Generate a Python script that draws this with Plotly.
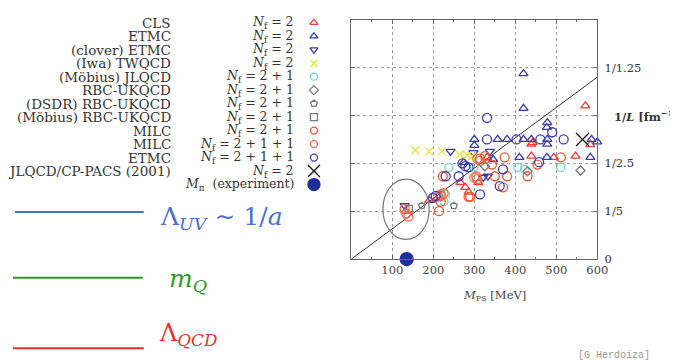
import plotly.graph_objects as go

# ---------------- data ----------------
cls_m = [571, 439, 583, 331, 439, 494, 547, 310, 266, 278, 286, 190, 132, 442]
cls_l = [0.64, 0.48, 0.478, 0.425, 0.43, 0.425, 0.43, 0.32, 0.32, 0.30, 0.28, 0.245, 0.20, 0.487]

etmc2_m = [420, 420, 478, 300, 300, 357, 380, 420, 439, 478, 478, 586, 600, 410, 346, 477, 583, 274, 477]
etmc2_l = [0.775, 0.63, 0.57, 0.50, 0.475, 0.50, 0.50, 0.50, 0.50, 0.50, 0.48, 0.50, 0.49, 0.425, 0.416, 0.425, 0.425, 0.404, 0.55]

clover_m = [242, 298, 338, 322, 333, 130]
clover_l = [0.45, 0.445, 0.45, 0.342, 0.346, 0.223]

twqcd_m = [156, 190, 221, 264, 283, 295]
twqcd_l = [0.455, 0.45, 0.45, 0.437, 0.433, 0.43]

jlqcd_m = [238, 230, 226, 406, 422, 511, 300]
jlqcd_l = [0.383, 0.27, 0.24, 0.383, 0.375, 0.383, 0.385]

rbc_m = [559, 430, 326]
rbc_l = [0.37, 0.367, 0.388]

dsdr_m = [172, 250]
dsdr_l = [0.223, 0.223]

mrbc_m = [140]
mrbc_l = [0.21]

milc_m = [343, 380, 454, 511, 223, 350, 370, 286, 218, 218, 214, 314, 326, 374, 430, 290]
milc_l = [0.395, 0.346, 0.395, 0.425, 0.346, 0.346, 0.30, 0.26, 0.264, 0.24, 0.20, 0.42, 0.43, 0.425, 0.346, 0.26]

milc4_m = [134, 139, 130, 218, 225, 212, 307, 305, 300, 314, 307]
milc4_l = [0.19, 0.177, 0.21, 0.27, 0.275, 0.262, 0.334, 0.345, 0.34, 0.41, 0.42]

etmc4_m = [331, 490, 331, 403, 461, 518, 458, 370, 271, 286, 230, 262, 314, 199, 206, 362, 278]
etmc4_l = [0.59, 0.53, 0.50, 0.50, 0.50, 0.50, 0.405, 0.375, 0.40, 0.383, 0.346, 0.346, 0.27, 0.256, 0.264, 0.305, 0.388]

cppacs_m = [564]
cppacs_l = [0.50]

exp_m = [135]
exp_l = [0.0]

x_ticks = [100, 200, 300, 400, 500, 600]
y_ticks = [0, 0.2, 0.4, 0.6, 0.8]
y_ticktext = ["0", "1/5", "1/2.5", "", "1/1.25"]

HBARC = 197.327
ML = 4.0
line_m = [0, 600]

RED = "#ee3d3d"
BLUE = "#3b3bb0"
YEL = "#e4e43c"
CYAN = "#72d6c6"
GRAY = "#7a7a7a"
ORANGE = "#f2552c"
ORANGE2 = "#f2684a"

series = [
    ("CLS", "<i>N</i><sub>f</sub> = 2", cls_m, cls_l, "triangle-up-open", RED, 8),
    ("ETMC", "<i>N</i><sub>f</sub> = 2", etmc2_m, etmc2_l, "triangle-up-open", BLUE, 8),
    ("(clover) ETMC", "<i>N</i><sub>f</sub> = 2", clover_m, clover_l, "triangle-down-open", BLUE, 8),
    ("(Iwa) TWQCD", "<i>N</i><sub>f</sub> = 2", twqcd_m, twqcd_l, "x-thin-open", YEL, 8),
    ("(Möbius) JLQCD", "<i>N</i><sub>f</sub> = 2 + 1", jlqcd_m, jlqcd_l, "circle-open", CYAN, 8),
    ("RBC-UKQCD", "<i>N</i><sub>f</sub> = 2 + 1", rbc_m, rbc_l, "diamond-open", GRAY, 7),
    ("(DSDR) RBC-UKQCD", "<i>N</i><sub>f</sub> = 2 + 1", dsdr_m, dsdr_l, "pentagon-open", GRAY, 7),
    ("(Möbius) RBC-UKQCD", "<i>N</i><sub>f</sub> = 2 + 1", mrbc_m, mrbc_l, "square-open", GRAY, 7),
    ("MILC", "<i>N</i><sub>f</sub> = 2 + 1", milc_m, milc_l, "circle-open", ORANGE, 9),
    ("MILC", "<i>N</i><sub>f</sub> = 2 + 1 + 1", milc4_m, milc4_l, "circle-open", ORANGE2, 9),
    ("ETMC", "<i>N</i><sub>f</sub> = 2 + 1 + 1", etmc4_m, etmc4_l, "circle-open", BLUE, 9),
    ("JLQCD/CP-PACS (2001)", "<i>N</i><sub>f</sub> = 2", cppacs_m, cppacs_l, "x-thin-open", "#111111", 13),
    ("", "<i>M</i><sub>π</sub>  (experiment)", exp_m, exp_l, "circle", "#1f2f9a", 13),
]

fig = go.Figure()

# diagonal M_PS L = 4 line
fig.add_trace(go.Scatter(x=line_m, y=[m / (ML * HBARC) for m in line_m], mode="lines",
                         line=dict(color="#333333", width=1), showlegend=False, hoverinfo="skip"))

for name, nf, xs, ys, sym, col, sz in series:
    fig.add_trace(go.Scatter(x=xs, y=ys, mode="markers", showlegend=False,
                             marker=dict(symbol=sym, color=col, size=sz,
                                         line=dict(color=col, width=1.3)),
                             cliponaxis=False))

# legend swatches on a separate full-page pixel axis
row_y = [15 + 13.75 * i for i in range(len(series))]
for (name, nf, xs, ys, sym, col, sz), ry in zip(series, row_y):
    fig.add_trace(go.Scatter(x=[311], y=[ry], mode="markers", showlegend=False,
                             xaxis="x2", yaxis="y2", hoverinfo="skip",
                             marker=dict(symbol=sym, color=col, size=7 if sz < 13 else 12,
                                         line=dict(color=col, width=1.3))))

annotations = []
NAME_FONT = dict(family="DejaVu Serif", size=13.5, color="#333333")
NF_FONT = dict(family="DejaVu Serif", size=12.5, color="#333333")
for (name, nf, *_), ry in zip(series, row_y):
    yp = 1 - ry / 363
    if name:
        annotations.append(dict(x=168 / 678, y=yp, xref="paper", yref="paper", text=name,
                                showarrow=False, xanchor="right", yanchor="middle", font=NAME_FONT))
    annotations.append(dict(x=293 / 678, y=yp, xref="paper", yref="paper", text=nf,
                            showarrow=False, xanchor="right", yanchor="middle", font=NF_FONT))

annotations += [
    dict(x=614 / 678, y=1 - 110 / 363, xref="paper", yref="paper",
         text="<b>1/<i>L</i> [fm<sup>−1</sup>]</b>", showarrow=False, xanchor="left", yanchor="middle",
         font=dict(family="DejaVu Serif", size=11.5, color="#333333")),
    dict(x=495 / 678, y=1 - 293 / 363, xref="paper", yref="paper",
         text="<i>M</i><sub>PS</sub> [MeV]", showarrow=False, xanchor="center", yanchor="middle",
         font=dict(family="DejaVu Serif", size=11.5, color="#444444")),
    dict(x=152 / 678, y=1 - 214 / 363, xref="paper", yref="paper",
         text="Λ<sub><i>UV</i></sub> ∼ 1/<i>a</i>", showarrow=False, xanchor="left", yanchor="middle",
         font=dict(family="DejaVu Serif", size=25, color="#4a6fd0")),
    dict(x=162 / 678, y=1 - 277 / 363, xref="paper", yref="paper",
         text="<i>m</i><sub><i>Q</i></sub>", showarrow=False, xanchor="left", yanchor="middle",
         font=dict(family="DejaVu Serif", size=25, color="#2a9a2a")),
    dict(x=151 / 678, y=1 - 333 / 363, xref="paper", yref="paper",
         text="Λ<sub><i>QCD</i></sub>", showarrow=False, xanchor="left", yanchor="middle",
         font=dict(family="DejaVu Serif", size=24, color="#e83030")),
    dict(x=655 / 678, y=1 - 354 / 363, xref="paper", yref="paper",
         text="[G Herdoíza]", showarrow=False, xanchor="right", yanchor="middle",
         font=dict(family="Liberation Mono", size=10, color="#999999")),
]

shapes = [
    dict(type="circle", xref="x", yref="y", x0=77, x1=190, y0=0.082, y1=0.334,
         line=dict(color="#777777", width=1.2)),
    dict(type="line", xref="paper", yref="paper", x0=7 / 678, x1=138 / 678,
         y0=1 - 208 / 363, y1=1 - 208 / 363, line=dict(color="#4a6fd0", width=2)),
    dict(type="line", xref="paper", yref="paper", x0=5 / 678, x1=137 / 678,
         y0=1 - 275 / 363, y1=1 - 275 / 363, line=dict(color="#2a9a2a", width=2)),
    dict(type="line", xref="paper", yref="paper", x0=5 / 678, x1=138 / 678,
         y0=1 - 347 / 363, y1=1 - 347 / 363, line=dict(color="#e83030", width=2)),
]

axis_font = dict(family="DejaVu Serif", size=11.5, color="#444444")
fig.update_layout(
    width=678, height=363, margin=dict(l=0, r=0, t=0, b=0),
    paper_bgcolor="white", plot_bgcolor="rgba(0,0,0,0)",
    xaxis=dict(domain=[349 / 678, 599 / 678], range=[0, 600], tickvals=x_ticks,
               showgrid=True, gridcolor="#9a9a9a", griddash="dot", gridwidth=1,
               showline=True, linecolor="#666666", linewidth=1, mirror="allticks",
               ticks="inside", ticklen=4, tickcolor="#666666", tickfont=axis_font,
               minor=dict(dtick=50, ticks="inside", ticklen=2, tickcolor="#666666", showgrid=False),
               zeroline=False, anchor="y"),
    yaxis=dict(domain=[1 - 256 / 363, 1 - 12 / 363], range=[0, 1.0], side="right",
               tickvals=y_ticks, ticktext=y_ticktext,
               showgrid=True, gridcolor="#9a9a9a", griddash="dot", gridwidth=1,
               showline=True, linecolor="#666666", linewidth=1, mirror="allticks",
               ticks="inside", ticklen=4, tickcolor="#666666",
               tickfont=dict(family="DejaVu Serif", size=11.5, color="#333333"),
               ticklabelstandoff=4, zeroline=False, anchor="x"),
    xaxis2=dict(domain=[0, 1], range=[0, 678], visible=False, anchor="y2"),
    yaxis2=dict(domain=[0, 1], range=[363, 0], visible=False, anchor="x2"),
    annotations=annotations, shapes=shapes,
)

fig.write_html("out.html")
